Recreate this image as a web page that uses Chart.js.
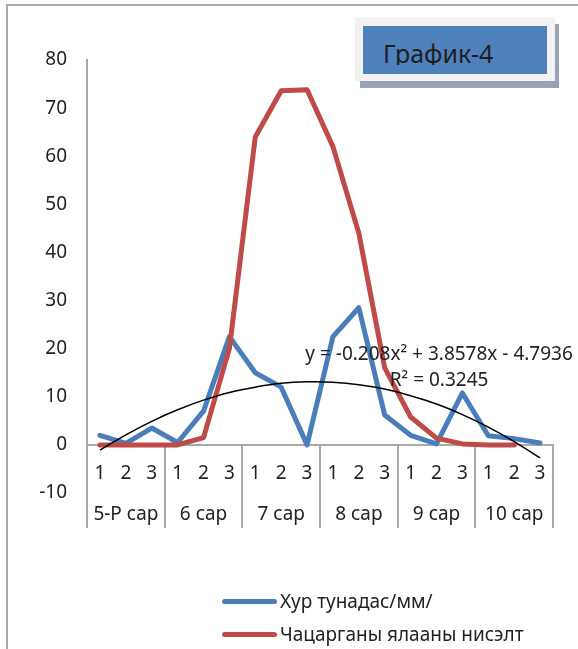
<!DOCTYPE html>
<html>
<head>
<meta charset="utf-8">
<script src="https://cdn.jsdelivr.net/npm/chart.js@4.4.1/dist/chart.umd.min.js"></script>
<style>
  html, body { margin: 0; padding: 0; background: #fff; }
  #wrap { position: relative; width: 578px; height: 649px; overflow: hidden; font-family: "Noto Sans", sans-serif; color: #222; }
  #frame { position: absolute; left: 6px; top: 4px; width: 700px; height: 800px; border-left: 2px solid #a9a9a9; border-top: 2px solid #a9a9a9; }
  #chart { position: absolute; left: 0; top: 0; }
  #titleShadow { position: absolute; left: 360px; top: 24px; width: 199px; height: 64px; background: #98a2b6; }
  #titleBox { position: absolute; left: 355px; top: 17px; width: 200px; height: 64px; background: #f2f2f2; }
  #titleInner { position: absolute; left: 363px; top: 26px; width: 184px; height: 48px; background: #4f81bd; }
  #titleText { position: absolute; left: 383px; top: 41px; height: 24px; overflow: hidden; font-size: 25px; line-height: 25px; color: #1f1f1f; white-space: nowrap; }
  .lg { position: absolute; left: 222px; height: 26px; display: flex; align-items: center; font-size: 19px; white-space: nowrap; }
  .sw { width: 55px; height: 5px; border-radius: 3px; margin-right: 3px; }
</style>
</head>
<body>
<div id="wrap">
  <div id="frame"></div>
  <canvas id="chart" width="578" height="649"></canvas>
  <div id="titleShadow"></div>
  <div id="titleBox"></div>
  <div id="titleInner"></div>
  <div id="titleText">График-4</div>
  <div id="legend"></div>
</div>
<script>
// ---------------- DATOS ----------------
const dekads = ['1', '2', '3', '1', '2', '3', '1', '2', '3', '1', '2', '3', '1', '2', '3', '1', '2', '3'];
const months = ['5-Р сар', '6 сар', '7 сар', '8 сар', '9 сар', '10 сар'];

const rainLabel = 'Хур тунадас/мм/';
const rain = [2, 0.3, 3.5, 0.5, 7, 22.5, 15, 12, 0, 22.5, 28.5, 6.2, 2, 0.2, 10.8, 1.9, 1.3, 0.4];

const flightLabel = 'Чацарганы ялааны нисэлт';
const flight = [0, 0, 0, 0, 1.5, 20, 64, 73.6, 73.8, 62, 44, 16, 5.8, 1.4, 0.2, 0, 0, null];

// poly trend (order 2)
const trend = [-1.1, 2.1, 4.9, 7.3, 9.3, 10.9, 12.0, 12.8, 13.1, 13.0, 12.5, 11.6, 10.2, 8.5, 6.3, 3.7, 0.7, -2.7];
const trendText = ['y = -0.208x² + 3.8578x - 4.7936', 'R² = 0.3245'];

const yTicks = { min: -10, max: 80, step: 10 };

const BLUE = '#4a7ebb';
const RED = '#be4b48';
const AXIS = '#a9a9a9';
const FONT = '"Noto Sans", sans-serif';
const FSIZE = 19;

// ---------------- PLUGIN: caja de meses + ecuación ----------------
const monthBoxes = {
  id: 'monthBoxes',
  beforeDatasetsDraw(chart) {
    const { ctx, scales: { x, y } } = chart;
    const y0 = y.getPixelForValue(0);
    const band = (x.right - x.left) / dekads.length;
    ctx.save();
    ctx.strokeStyle = AXIS;
    ctx.lineWidth = 2;
    for (let g = 0; g <= months.length; g++) {
      const px = Math.round(x.left + g * 3 * band);
      ctx.beginPath();
      ctx.moveTo(px, y0);
      ctx.lineTo(px, 528);
      ctx.stroke();
    }
    ctx.fillStyle = '#222';
    ctx.font = FSIZE + 'px ' + FONT;
    ctx.textAlign = 'center';
    ctx.textBaseline = 'middle';
    months.forEach((m, g) => {
      ctx.fillText(m, x.left + (g * 3 + 1.5) * band, 515);
    });
    ctx.restore();
  },
  afterDatasetsDraw(chart) {
    const { ctx, scales: { x, y } } = chart;
    ctx.save();
    ctx.fillStyle = '#222';
    ctx.font = FSIZE + 'px ' + FONT;
    ctx.textAlign = 'center';
    ctx.textBaseline = 'alphabetic';
    const cx = x.getPixelForValue(13.1);
    const by = y.getPixelForValue(17.7);
    ctx.fillText(trendText[0], cx, by);
    ctx.fillText(trendText[1], cx, by + 26);
    ctx.restore();
  }
};

// ---------------- GRÁFICA ----------------
const ctx = document.getElementById('chart').getContext('2d');
const chart = new Chart(ctx, {
  type: 'line',
  data: {
    labels: dekads,
    datasets: [
      { label: 'trend', data: trend, borderColor: '#000', borderWidth: 1.5, pointRadius: 0, tension: 0.4, order: 0 },
      { label: flightLabel, data: flight, borderColor: RED, backgroundColor: RED, borderWidth: 5, pointRadius: 0,
        borderJoinStyle: 'round', borderCapStyle: 'round', tension: 0, order: 1 },
      { label: rainLabel, data: rain, borderColor: BLUE, backgroundColor: BLUE, borderWidth: 5, pointRadius: 0,
        borderJoinStyle: 'round', borderCapStyle: 'round', tension: 0, order: 2 }
    ]
  },
  options: {
    responsive: false,
    animation: false,
    layout: { padding: { top: 60, left: 0, right: 25, bottom: 156 } },
    plugins: { legend: { display: false }, tooltip: { enabled: false } },
    scales: {
      x: {
        type: 'category',
        offset: true,
        position: { y: 0 },
        grid: { display: false, drawTicks: false },
        border: { display: true, color: AXIS, width: 2 },
        ticks: { color: '#222', font: { family: FONT, size: FSIZE }, padding: 17, maxRotation: 0, autoSkip: false }
      },
      y: {
        min: yTicks.min,
        max: yTicks.max,
        grid: { display: false, drawTicks: false },
        border: { display: true, color: AXIS, width: 2 },
        ticks: { stepSize: yTicks.step, color: '#222', font: { family: FONT, size: FSIZE }, padding: 20 },
        afterFit: scale => { scale.width = 87; }
      }
    }
  },
  plugins: [monthBoxes]
});

// ---------------- LEYENDA ----------------
const legend = document.getElementById('legend');
[[rainLabel, BLUE, 588], [flightLabel, RED, 621]].forEach(([txt, col, top]) => {
  const row = document.createElement('div');
  row.className = 'lg';
  row.style.top = top + 'px';
  row.innerHTML = '<div class="sw" style="background:' + col + '"></div><span>' + txt + '</span>';
  legend.appendChild(row);
});
</script>
</body>
</html>
